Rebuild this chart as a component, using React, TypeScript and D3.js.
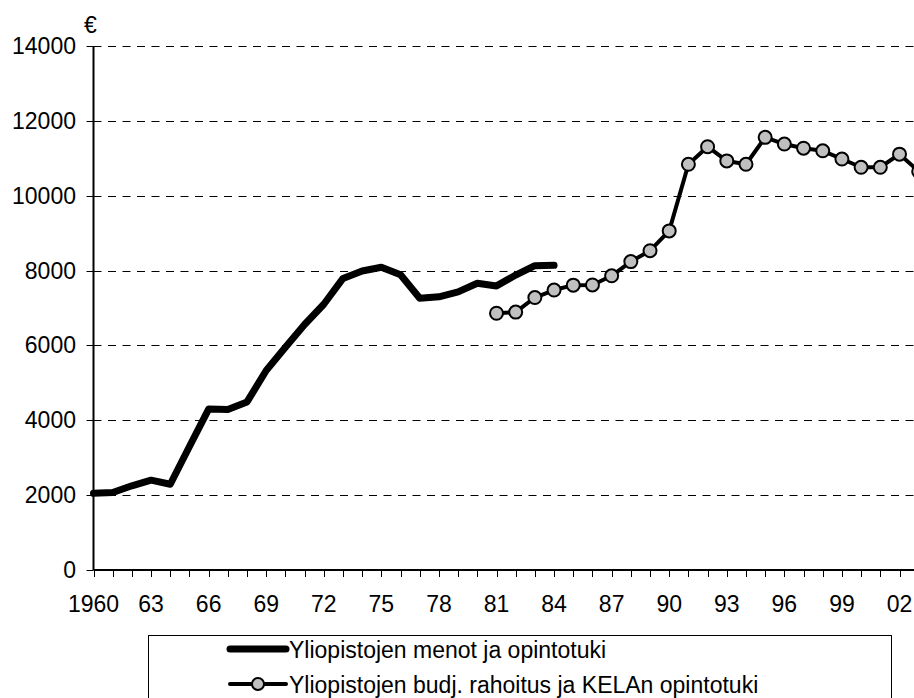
import { useEffect, useRef } from 'react';
import * as d3 from 'd3';

// Yliopistojen menot ja opintotuki (1960–1984)
const menotYears = [1960, 1961, 1962, 1963, 1964, 1965, 1966, 1967, 1968, 1969, 1970, 1971, 1972,
  1973, 1974, 1975, 1976, 1977, 1978, 1979, 1980, 1981, 1982, 1983, 1984];
const menotValues = [2050, 2070, 2250, 2400, 2290, 3300, 4300, 4290, 4490, 5330, 5950, 6560, 7100,
  7790, 7990, 8090, 7890, 7260, 7300, 7430, 7660, 7590, 7880, 8130, 8140];

// Yliopistojen budj. rahoitus ja KELAn opintotuki (1981–2003)
const budjYears = [1981, 1982, 1983, 1984, 1985, 1986, 1987, 1988, 1989, 1990, 1991, 1992, 1993,
  1994, 1995, 1996, 1997, 1998, 1999, 2000, 2001, 2002, 2003];
const budjValues = [6860, 6890, 7280, 7480, 7610, 7615, 7860, 8240, 8530, 9060, 10840, 11310, 10930,
  10840, 11560, 11380, 11270, 11200, 10980, 10760, 10760, 11110, 10650];

const yTicks = [0, 2000, 4000, 6000, 8000, 10000, 12000, 14000];
const xLabelYears = [1960, 1963, 1966, 1969, 1972, 1975, 1978, 1981, 1984, 1987, 1990, 1993, 1996, 1999, 2002];
const xLabels = ['1960', '63', '66', '69', '72', '75', '78', '81', '84', '87', '90', '93', '96', '99', '02'];

const seriesNames = ['Yliopistojen menot ja opintotuki', 'Yliopistojen budj. rahoitus ja KELAn opintotuki'];

export default function App() {
  const svgRef = useRef<SVGSVGElement>(null);

  useEffect(() => {
    if (!svgRef.current) return;
    const svg = d3.select(svgRef.current);
    svg.selectAll('*').remove();

    const font = '"Liberation Sans", Arial, sans-serif';
    const fs = 23;
    const x = d3.scaleLinear().domain([1960, 2002]).range([93.5, 899.5]);
    const y = d3.scaleLinear().domain([0, 14000]).range([570, 46]);
    const plotRight = 960;

    // grid lines (dashed)
    yTicks.filter(v => v > 0).forEach(v => {
      svg.append('line').attr('x1', x(1960)).attr('x2', plotRight)
        .attr('y1', Math.round(y(v)) + 0.5).attr('y2', Math.round(y(v)) + 0.5)
        .attr('stroke', '#000').attr('stroke-width', 1).attr('stroke-dasharray', '8,6.5');
    });

    // y axis
    svg.append('line').attr('x1', x(1960)).attr('x2', x(1960)).attr('y1', y(14000)).attr('y2', y(0))
      .attr('stroke', '#000').attr('stroke-width', 2);
    yTicks.forEach(v => {
      svg.append('line').attr('x1', x(1960) - 7).attr('x2', x(1960))
        .attr('y1', Math.round(y(v)) + 0.5).attr('y2', Math.round(y(v)) + 0.5)
        .attr('stroke', '#000').attr('stroke-width', 1);
      svg.append('text').attr('x', 76).attr('y', y(v)).attr('text-anchor', 'end')
        .attr('dominant-baseline', 'central').attr('font-family', font).attr('font-size', fs)
        .attr('fill', '#000').text(v);
    });
    svg.append('text').attr('x', 84).attr('y', 33).attr('font-family', font).attr('font-size', fs)
      .attr('fill', '#000').text('€');

    // x axis
    svg.append('line').attr('x1', x(1960)).attr('x2', plotRight).attr('y1', y(0)).attr('y2', y(0))
      .attr('stroke', '#000').attr('stroke-width', 2);
    d3.range(1960, 2005).forEach(yr => {
      svg.append('line').attr('x1', Math.round(x(yr)) + 0.5).attr('x2', Math.round(x(yr)) + 0.5)
        .attr('y1', y(0)).attr('y2', y(0) + 7).attr('stroke', '#000').attr('stroke-width', 1);
    });
    xLabelYears.forEach((yr, i) => {
      svg.append('text').attr('x', x(yr)).attr('y', 612).attr('text-anchor', 'middle')
        .attr('font-family', font).attr('font-size', fs).attr('fill', '#000').text(xLabels[i]);
    });

    // series 1: thick black line
    const menot = menotYears.map((yr, i) => ({ yr, v: menotValues[i] }));
    const line = d3.line<{ yr: number; v: number }>().x(d => x(d.yr)).y(d => y(d.v));
    svg.append('path').datum(menot).attr('d', line).attr('fill', 'none').attr('stroke', '#000')
      .attr('stroke-width', 7).attr('stroke-linejoin', 'round').attr('stroke-linecap', 'round');

    // series 2: black line with grey markers
    const budj = budjYears.map((yr, i) => ({ yr, v: budjValues[i] }));
    svg.append('path').datum(budj).attr('d', line).attr('fill', 'none').attr('stroke', '#000')
      .attr('stroke-width', 4).attr('stroke-linejoin', 'round');
    svg.selectAll('circle.m').data(budj).enter().append('circle').attr('class', 'm')
      .attr('cx', d => x(d.yr)).attr('cy', d => y(d.v)).attr('r', 6.5)
      .attr('fill', '#c0c0c0').attr('stroke', '#000').attr('stroke-width', 2);

    // legend
    svg.append('rect').attr('x', 148.5).attr('y', 635.5).attr('width', 743).attr('height', 80)
      .attr('fill', '#fff').attr('stroke', '#000').attr('stroke-width', 1);
    const items = [{ y: 649, thick: true }, { y: 684, thick: false }];
    items.forEach((it, i) => {
      svg.append('line').attr('x1', 230).attr('x2', 286).attr('y1', it.y).attr('y2', it.y)
        .attr('stroke', '#000').attr('stroke-width', it.thick ? 7 : 4)
        .attr('stroke-linecap', 'round');
      if (!it.thick) {
        svg.append('circle').attr('cx', 258).attr('cy', it.y).attr('r', 6)
          .attr('fill', '#c0c0c0').attr('stroke', '#000').attr('stroke-width', 2);
      }
      svg.append('text').attr('x', 289).attr('y', it.y + 1).attr('dominant-baseline', 'central')
        .attr('font-family', font).attr('font-size', fs).attr('fill', '#000').text(seriesNames[i]);
    });
  }, []);

  return (
    <svg ref={svgRef} width={914} height={698}
      style={{ position: 'absolute', left: 0, top: 0, background: '#fff', overflow: 'hidden' }} />
  );
}
